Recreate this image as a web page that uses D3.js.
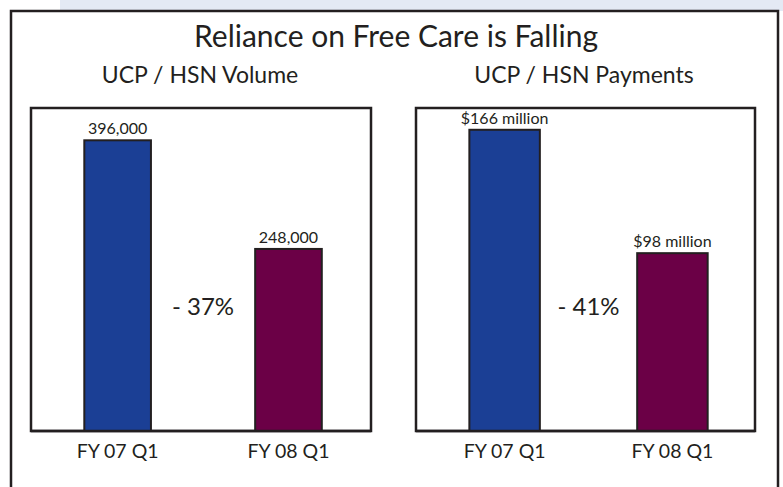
<!DOCTYPE html>
<html><head><meta charset="utf-8">
<script src="https://cdn.jsdelivr.net/npm/d3@7"></script>
<style>html,body{margin:0;padding:0;background:#fff;}svg{display:block;}</style>
</head><body>
<svg id="chart" width="783" height="487"></svg>
<script>
const title = "Reliance on Free Care is Falling";
const categories = ["FY 07 Q1", "FY 08 Q1"];
const panelTitles = ["UCP / HSN Volume", "UCP / HSN Payments"];
const volumeValues = [396000, 248000];
const paymentValues = [166, 98];
const volumeLabels = ["396,000", "248,000"];
const paymentLabels = ["$166 million", "$98 million"];
const changeLabels = ["- 37%", "- 41%"];
const barColors = ["#1b3f95", "#6b0046"];

const svg = d3.select("#chart");
const font = "Lato, 'Open Sans', sans-serif";
const ink = "#231f20";

svg.append("rect").attr("x", 60).attr("y", 0).attr("width", 723).attr("height", 11).attr("fill", "#e4e9f4");
svg.append("rect").attr("x", 11).attr("y", 11).attr("width", 767).attr("height", 500)
  .attr("fill", "#fff").attr("stroke", ink).attr("stroke-width", 2.5);

svg.append("text").attr("x", 396).attr("y", 47).attr("text-anchor", "middle")
  .attr("font-family", font).attr("font-size", 30).attr("fill", ink).text(title);

const panels = [
  {x0: 31, x1: 371, cx: 200, values: volumeValues, labels: volumeLabels, max: 440000, change: changeLabels[0], title: panelTitles[0], pi: 0.61, align: 0.52},
  {x0: 416, x1: 755, cx: 584, values: paymentValues, labels: paymentLabels, max: 178, change: changeLabels[1], title: panelTitles[1], pi: 0.58, align: 0.53}
];
const plotTop = 108, plotBottom = 431;

panels.forEach(p => {
  const g = svg.append("g");
  g.append("text").attr("x", p.cx).attr("y", 83).attr("text-anchor", "middle")
    .attr("font-family", font).attr("font-size", 23).attr("fill", ink).text(p.title);
  g.append("rect").attr("x", p.x0).attr("y", plotTop).attr("width", p.x1 - p.x0).attr("height", plotBottom - plotTop)
    .attr("fill", "#fff").attr("stroke", ink).attr("stroke-width", 2.5);
  const x = d3.scaleBand().domain(categories).range([p.x0, p.x1]).paddingInner(p.pi).paddingOuter(0.3).align(p.align);
  const y = d3.scaleLinear().domain([0, p.max]).range([plotBottom, plotTop]);
  categories.forEach((c, i) => {
    g.append("rect").attr("x", x(c)).attr("y", y(p.values[i])).attr("width", x.bandwidth())
      .attr("height", plotBottom - y(p.values[i])).attr("fill", barColors[i])
      .attr("stroke", ink).attr("stroke-width", 2);
    g.append("text").attr("x", x(c) + x.bandwidth() / 2).attr("y", y(p.values[i]) - 6)
      .attr("text-anchor", "middle").attr("font-family", font).attr("font-size", 16)
      .attr("fill", ink).text(p.labels[i]);
    g.append("text").attr("x", x(c) + x.bandwidth() / 2).attr("y", 458)
      .attr("text-anchor", "middle").attr("font-family", font).attr("font-size", 19.5)
      .attr("fill", ink).text(c);
  });
  g.append("text").attr("x", (x(categories[0]) + x.bandwidth() + x(categories[1])) / 2).attr("y", 315)
    .attr("text-anchor", "middle").attr("font-family", font).attr("font-size", 24)
    .attr("fill", ink).text(p.change);
  g.append("line").attr("x1", p.x0).attr("x2", p.x1).attr("y1", plotBottom).attr("y2", plotBottom)
    .attr("stroke", ink).attr("stroke-width", 2.5);
});
</script>
</body></html>
